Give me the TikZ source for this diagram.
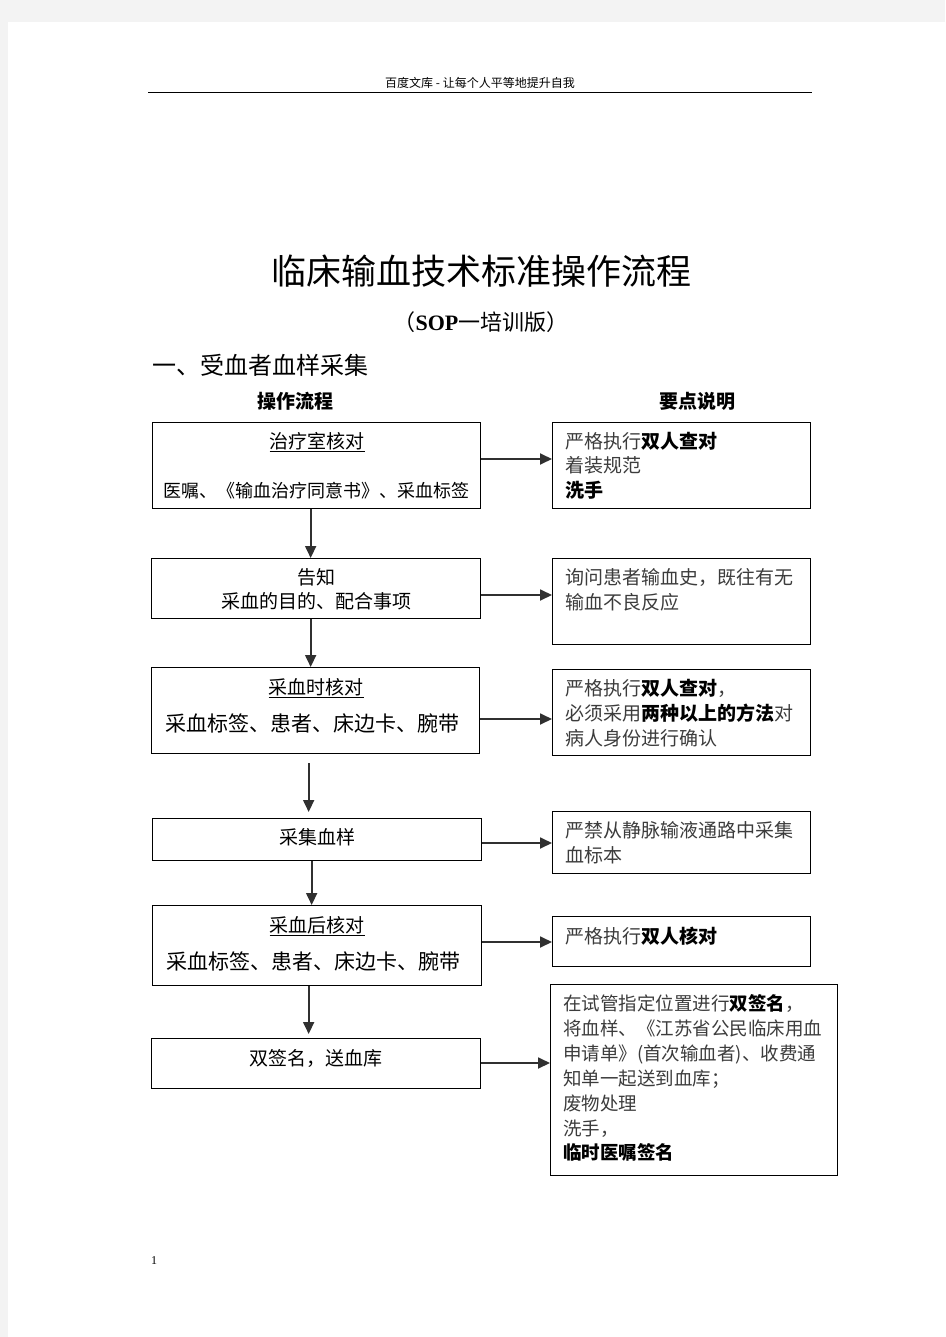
\documentclass[tikz,border=0pt]{standalone}
\usepackage{fontspec}
\setmainfont{Liberation Serif}
\newfontfamily\cjk{Noto Sans CJK SC}
\usetikzlibrary{arrows.meta}
\definecolor{pagebg}{HTML}{F3F3F3}
\definecolor{lnc}{HTML}{303030}
\definecolor{rtc}{HTML}{3C3C3C}
\begin{document}
\begin{tikzpicture}[x=1pt,y=-1pt,
  box/.style={draw=black,line width=1.3pt,rectangle,inner sep=0pt,anchor=north west},
  arr/.style={draw=lnc,line width=1.8pt,-{Triangle[length=12pt,width=11pt]}},
  ct/.style={anchor=base,inner sep=0pt,font=\cjk\fontsize{19}{19}\selectfont},
  ctb/.style={anchor=base,inner sep=0pt,font=\cjk\fontsize{21}{21}\selectfont},
  rt/.style={anchor=base west,inner sep=0pt,text=rtc,font=\cjk\fontsize{19}{19}\selectfont},
  rts/.style={anchor=base west,inner sep=0pt,text=rtc,font=\cjk\fontsize{18.5}{18.5}\selectfont}]
\useasboundingbox (0,0) rectangle (945,1337);
\fill[pagebg] (0,0) rectangle (945,1337);
\fill[white] (8,22) rectangle (945,1337);

% page header
\node[anchor=base,inner sep=0pt,font=\cjk\fontsize{12}{12}\selectfont] (hdr) at (480,88) {百度文库 - 让每个人平等地提升自我};
\draw[line width=1pt] (148,93) -- (812,93);

% titles
\node[anchor=base,inner sep=0pt,font=\cjk\fontsize{35}{35}\selectfont] (title) at (481,284) {临床输血技术标准操作流程};
\node[anchor=base,inner sep=0pt,font=\cjk\fontsize{22}{22}\selectfont] (sub) at (481,330) {（{\fontspec{Liberation Serif}\bfseries SOP}一培训版）};
\node[anchor=base west,inner sep=0pt,font=\cjk\fontsize{24}{24}\selectfont] (sec) at (152,374) {一、受血者血样采集};
\node[ct,font=\cjk\bfseries\fontsize{19}{19}\selectfont] (hl) at (295,408) {操作流程};
\node[ct,font=\cjk\bfseries\fontsize{19}{19}\selectfont] (hr) at (697,408) {要点说明};

% left boxes
\node[box,minimum width=328pt,minimum height=86pt] (b1) at (152,422) {};
\node[box,minimum width=329pt,minimum height=60pt] (b2) at (151,558) {};
\node[box,minimum width=328pt,minimum height=86pt] (b3) at (151,667) {};
\node[box,minimum width=329pt,minimum height=42pt] (b4) at (152,818) {};
\node[box,minimum width=329pt,minimum height=80pt] (b5) at (152,905) {};
\node[box,minimum width=329pt,minimum height=50pt] (b6) at (151,1038) {};

% right boxes
\node[box,minimum width=258pt,minimum height=86pt] (r1) at (552,422) {};
\node[box,minimum width=258pt,minimum height=86pt] (r2) at (552,558) {};
\node[box,minimum width=258pt,minimum height=86pt] (r3) at (552,669) {};
\node[box,minimum width=258pt,minimum height=62pt] (r4) at (552,811) {};
\node[box,minimum width=258pt,minimum height=50pt] (r5) at (552,916) {};
\node[box,minimum width=287pt,minimum height=191pt] (r6) at (550,984) {};

% left texts
\node[ct] (b1a) at (317,448) {\underline{治疗室核对}};
\node[ct,font=\cjk\fontsize{18}{18}\selectfont] (b1b) at (316,497) {医嘱、《输血治疗同意书》、采血标签};
\node[ct] (b2a) at (316,584) {告知};
\node[ct] (b2b) at (316,608) {采血的目的、配合事项};
\node[ct] (b3a) at (316,694) {\underline{采血时核对}};
\node[ctb] (b3b) at (312,731) {采血标签、患者、床边卡、腕带};
\node[ct] (b4a) at (317,844) {采集血样};
\node[ct] (b5a) at (317,932) {\underline{采血后核对}};
\node[ctb] (b5b) at (313,969) {采血标签、患者、床边卡、腕带};
\node[ct] (b6a) at (316,1065) {双签名，送血库};

% right texts
\node[rt] (r1a) at (565,448) {严格执行\textcolor{black}{\bfseries 双人查对}};
\node[rt] (r1b) at (565,472) {着装规范};
\node[rt,text=black,font=\cjk\bfseries\fontsize{19}{19}\selectfont] (r1c) at (565,497) {洗手};
\node[rt] (r2a) at (565,584) {询问患者输血史，既往有无};
\node[rt] (r2b) at (565,609) {输血不良反应};
\node[rt] (r3a) at (565,695) {严格执行\textcolor{black}{\bfseries 双人查对}，};
\node[rt] (r3b) at (565,720) {必须采用\textcolor{black}{\bfseries 两种以上的方法}对};
\node[rt] (r3c) at (565,745) {病人身份进行确认};
\node[rt] (r4a) at (565,837) {严禁从静脉输液通路中采集};
\node[rt] (r4b) at (565,862) {血标本};
\node[rt] (r5a) at (565,943) {严格执行\textcolor{black}{\bfseries 双人核对}};
\node[rts] (r6a) at (563,1010) {在试管指定位置进行\textcolor{black}{\bfseries 双签名}，};
\node[rts] (r6b) at (563,1035) {将血样、《江苏省公民临床用血};
\node[rts] (r6c) at (563,1060) {申请单》(首次输血者)、收费通};
\node[rts] (r6d) at (563,1085) {知单一起送到血库；};
\node[rts] (r6e) at (563,1110) {废物处理};
\node[rts] (r6f) at (563,1135) {洗手，};
\node[rts,text=black,font=\cjk\bfseries\fontsize{18.5}{18.5}\selectfont] (r6g) at (563,1159) {临时医嘱签名};

% page number
\node[anchor=base west,inner sep=0pt,font=\fontsize{12}{12}\selectfont] (pg) at (151,1264) {1};

% vertical arrows
\draw[arr] ([xshift=-6pt]b1.south) -- ([xshift=-6pt]b1.south |- b2.north);
\draw[arr] ([xshift=-5.5pt]b2.south) -- ([xshift=-5.5pt]b2.south |- b3.north);
\draw[arr,shorten <=9pt,shorten >=6pt] ([xshift=-7pt]b3.south) -- ([xshift=-7pt]b3.south |- b4.north);
\draw[arr] ([xshift=-5.5pt]b4.south) -- ([xshift=-5.5pt]b4.south |- b5.north);
\draw[arr,shorten >=4pt] ([xshift=-8.5pt]b5.south) -- ([xshift=-8.5pt]b5.south |- b6.north);

% horizontal arrows
\draw[arr] (b1.east |- 0,459) -- (r1.west |- 0,459);
\draw[arr] (b2.east |- 0,595) -- (r2.west |- 0,595);
\draw[arr] (b3.east |- 0,719) -- (r3.west |- 0,719);
\draw[arr] (b4.east |- 0,843) -- (r4.west |- 0,843);
\draw[arr] (b5.east |- 0,942) -- (r5.west |- 0,942);
\draw[arr] (b6.east |- 0,1063) -- (r6.west |- 0,1063);
\end{tikzpicture}
\end{document}
